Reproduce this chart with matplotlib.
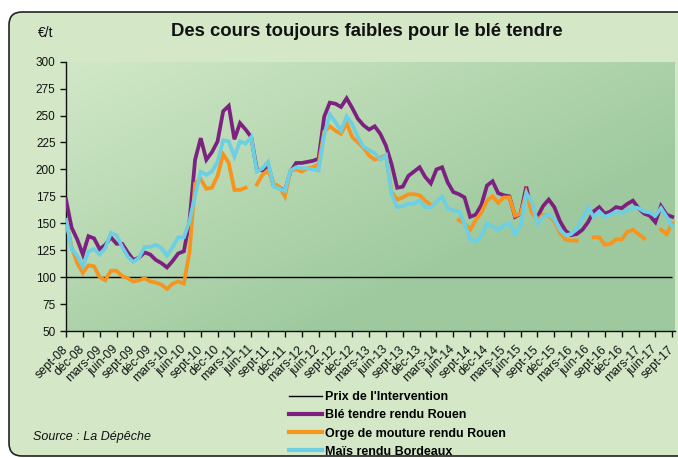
import numpy as np
import matplotlib.pyplot as plt
from matplotlib.patches import FancyBboxPatch
from matplotlib.lines import Line2D

plt.rcParams['font.family'] = ['Liberation Sans', 'DejaVu Sans']

TITLE = "Des cours toujours faibles pour le blé tendre"
UNIT = "€/t"
SOURCE = "Source : La Dépêche"

# one tick label every 3 months, sept-08 .. sept-17
TICK_LABELS = [
    "sept-08", "déc-08", "mars-09", "juin-09", "sept-09", "déc-09",
    "mars-10", "juin-10", "sept-10", "déc-10", "mars-11", "juin-11",
    "sept-11", "déc-11", "mars-12", "juin-12", "sept-12", "déc-12",
    "mars-13", "juin-13", "sept-13", "déc-13", "mars-14", "juin-14",
    "sept-14", "déc-14", "mars-15", "juin-15", "sept-15", "déc-15",
    "mars-16", "juin-16", "sept-16", "déc-16", "mars-17", "juin-17",
    "sept-17",
]

INTERVENTION = 100

# monthly prices, €/t (None = no quote)
BLE = [172, 146, 135, 121, 138, 136, 126, 130, 137, 131,
       131, 123, 116, 118, 123, 121, 116, 113, 109, 115,
       122, 124, 152, 209, 229, 209, 216, 226, 254, 259,
       228, 243, 237, 230, 200, 199, 204, 185, 183, 180,
       198, 206, 206, 207, 208, 210, 249, 262, 261, 258,
       266, 257, 247, 241, 237, 240, 233, 222, 205, 183,
       184, 194, 198, 202, 193, 187, 200, 202, 188, 179,
       177, 174, 156, 158, 167, 185, 189, 178, 176, 175,
       156, 159, 184, 161, 156, 166, 172, 165, 152, 143,
       139, 140, 144, 151, 161, 165, 159, 161, 165, 164,
       168, 171, 164, 159, 157, 151, 166, 158, 156]

ORGE = [153, 128, 113, 104, 111, 110, 100, 97, 106, 106,
        101, 99, 96, 97, 99, 96, 95, 93, 89, 94,
        96, 94, 123, 187, 191, 182, 183, 194, 214, 206,
        181, 181, 183, None, 186, 195, 199, 187, 184, 175,
        199, 200, 198, 201, 202, 205, 235, 240, 236, 233,
        243, 230, 225, 220, 213, 209, 211, 213, 179, 172,
        174, 177, 177, 176, 171, 167, None, None, None, None,
        153, 150, 144, 153, 160, 171, 175, 169, 174, 174,
        157, 159, 178, 160, 153, 158, 157, 152, 141, 135,
        134, 134, None, None, 137, 137, 130, 131, 135, 135,
        142, 144, 140, 136, None, None, 144, 140, 150]

MAIS = [153, 126, 120, 110, 124, 126, 121, 127, 141, 139,
        128, 119, 114, 118, 128, 128, 130, 127, 120, 128,
        137, 137, 152, 176, 198, 195, 198, 207, 227, 226,
        212, 226, 224, 230, 198, 201, 207, 184, 182, 180,
        199, 202, 201, 201, 200, 199, 232, 251, 244, 236,
        249, 242, 230, 221, 218, 215, 209, 213, 177, 165,
        166, 168, 168, 171, 165, 165, 170, 175, 164, 162,
        161, 150, 135, 133, 138, 150, 147, 144, 148, 150,
        140, 148, 178, 170, 150, 156, 158, 154, 144, 139,
        140, 145, 154, 165, 156, 161, 156, 158, 161, 159,
        162, 165, 164, 161, 160, 157, 164, 156, 147]

NAMES = ["Prix de l'Intervention", "Blé tendre rendu Rouen",
         "Orge de mouture rendu Rouen", "Maïs rendu Bordeaux"]
COLORS = ["#000000", "#7d2181", "#f7941d", "#6ccfe3"]

BG = "#d4e8c8"

x = np.arange(len(BLE))
ble = np.array(BLE, dtype=float)
orge = np.array([np.nan if v is None else v for v in ORGE], dtype=float)
mais = np.array(MAIS, dtype=float)

fig = plt.figure(figsize=(6.78, 4.58), dpi=100, facecolor="white")

# rounded chart frame (right edge runs off the picture)
frame = FancyBboxPatch((0.09, 0.02), 7.2, 4.44,
                       boxstyle="round,pad=0,rounding_size=0.13",
                       transform=fig.dpi_scale_trans, facecolor=BG,
                       edgecolor="#222222", linewidth=1.2, zorder=-5)
fig.patches.append(frame)

ax = fig.add_axes([66 / 678, 1 - 331 / 458, 609 / 678, 269.3 / 458])
ax.set_zorder(2)
ax.set_facecolor("none")

# plot-area gradient: light top-left, darker toward right and bottom
u, w = np.meshgrid(np.linspace(0, 1, 200), np.linspace(0, 1, 120))
t = np.clip(0.75 * u + 0.7 * w, 0, 1)
light = np.array([0.82, 0.91, 0.78])
dark = np.array([0.62, 0.79, 0.62])
grad = light[None, None, :] * (1 - t[..., None]) + dark[None, None, :] * t[..., None]
ax.imshow(grad, extent=[0, 1, 0, 1], transform=ax.transAxes, aspect="auto",
          zorder=0, origin="upper")

ax.hlines(INTERVENTION, x[0], x[-1], color=COLORS[0], lw=1, zorder=2)
ax.plot(x, ble, color=COLORS[1], lw=2.7, zorder=3, solid_joinstyle="miter")
ax.plot(x, orge, color=COLORS[2], lw=2.7, zorder=4, solid_joinstyle="miter")
ax.plot(x, mais, color=COLORS[3], lw=2.7, zorder=5, solid_joinstyle="miter")

ax.set_xlim(0, len(BLE) - 0.5)
ax.set_ylim(50, 300)
ax.set_yticks(np.arange(50, 301, 25))
ax.set_xticks(np.arange(0, len(BLE), 3))
ax.set_xticklabels(TICK_LABELS, rotation=45, ha="right", va="center",
                   rotation_mode="anchor")
ax.tick_params(axis="both", direction="out", length=4, width=1,
               colors="#111111", labelsize=8.5)
ax.tick_params(axis="x", pad=8, labelsize=8.8)
for side in ("top", "right"):
    ax.spines[side].set_visible(False)
for side in ("left", "bottom"):
    ax.spines[side].set_linewidth(1)
    ax.spines[side].set_color("#111111")

fig.text(367 / 678, 1 - 32 / 458, TITLE, ha="center", va="center",
         fontsize=13.3, fontweight="bold", color="#111111")
fig.text(38 / 678, 1 - 33 / 458, UNIT, ha="left", va="center",
         fontsize=10, color="#111111")
fig.text(33 / 678, 1 - 437 / 458, SOURCE, ha="left", va="center",
         fontsize=9, style="italic", color="#111111")

handles = [Line2D([], [], color=COLORS[0], lw=1)] + \
          [Line2D([], [], color=c, lw=3) for c in COLORS[1:]]
fig.legend(handles, NAMES, loc="upper left",
           bbox_to_anchor=(289 / 678, 1 - 391 / 458), frameon=False,
           borderpad=0, borderaxespad=0, handlelength=2.6,
           handletextpad=0.3, labelspacing=0.5,
           prop={"size": 9, "weight": "bold"})

fig.savefig("out.png", dpi=100, facecolor="white")
